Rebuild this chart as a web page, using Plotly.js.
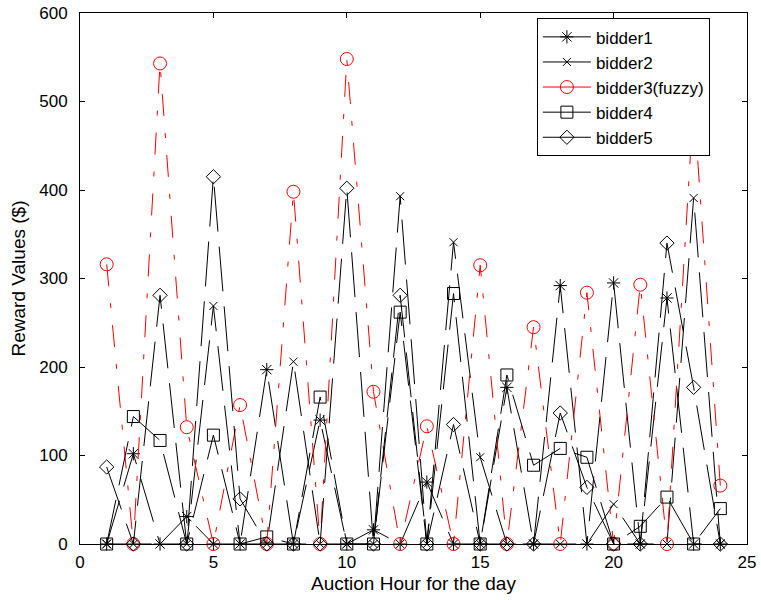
<!DOCTYPE html>
<html>
<head>
<meta charset="utf-8">
<script src="https://cdn.plot.ly/plotly-3.0.1.min.js"></script>
<style>html,body{margin:0;padding:0;background:#fff;}#chart{width:761px;height:600px;}</style>
</head>
<body>
<div id="chart"></div>
<script>
const hours = [1,2,3,4,5,6,7,8,9,10,11,12,13,14,15,16,17,18,19,20,21,22,23,24];
const bidder1 = [0,102,0,31,0,0,197,0,140,0,16,0,70,0,0,177,0,292,0,295,0,278,0,0];
const bidder2 = [0,0,0,0,269,0,0,206,0,0,0,393,0,341,98,0,0,0,0,45,0,0,391,0];
const bidder3 = [316,0,543,132,0,157,0,398,0,548,172,0,133,0,315,0,245,0,284,0,293,0,500,66];
const bidder4 = [0,144,117,0,123,0,8,0,166,0,0,262,0,283,0,191,89,108,98,0,20,53,0,40];
const bidder5 = [87,0,281,0,415,51,0,0,0,402,0,281,0,135,0,0,0,148,64,0,0,340,177,0];
const names = ['bidder1','bidder2','bidder3(fuzzy)','bidder4','bidder5'];
const series = [bidder1, bidder2, bidder3, bidder4, bidder5];

const styles = [
  {color:'#000', symbol:'asterisk-open', size:11, dash:'45px,15px'},
  {color:'#000', symbol:'x-thin-open', size:8, dash:'45px,15px'},
  {color:'#ff0000', symbol:'circle-open', size:13, dash:'22px,17px,5px,17px'},
  {color:'#000', symbol:'square-open', size:12, dash:'45px,15px'},
  {color:'#000', symbol:'diamond-open', size:11, dash:'45px,15px'}
];

const traces = [];
series.forEach((ys, i) => {
  const s = styles[i];
  traces.push({
    x: hours, y: ys, type:'scatter', mode:'lines+markers', name: names[i],
    showlegend:false, cliponaxis:false,
    line:{color:s.color, width:1, dash:s.dash},
    marker:{symbol:s.symbol, size:s.size, color:s.color, line:{color:s.color, width:1}}
  });
});
// legend entries (solid sample lines, as in the reference legend)
series.forEach((ys, i) => {
  const s = styles[i];
  traces.push({
    x:[null], y:[null], type:'scatter', mode:'lines+markers', name: names[i],
    showlegend:true,
    line:{color:s.color, width:1},
    marker:{symbol:s.symbol, size:s.size, color:s.color, line:{color:s.color, width:1}}
  });
});

const fam = 'Arial, Liberation Sans, sans-serif';
const tickFont = {family:fam, size:17, color:'#000'};
const titleFont = {family:fam, size:19, color:'#000'};
const layout = {
  width:761, height:600,
  margin:{l:80, r:14, t:13, b:56},
  paper_bgcolor:'#fff', plot_bgcolor:'#fff',
  font: tickFont,
  showlegend:true,
  xaxis:{
    range:[0,25], dtick:5, tick0:0, ticks:'inside', ticklen:5, tickcolor:'#000',
    showline:true, linecolor:'#000', linewidth:1, mirror:'ticks',
    showgrid:false, zeroline:false, tickfont:tickFont, ticklabelstandoff:3,
    title:{text:'Auction Hour for the day', font:titleFont, standoff:5}
  },
  yaxis:{
    range:[0,600], dtick:100, tick0:0, ticks:'inside', ticklen:5, tickcolor:'#000',
    showline:true, linecolor:'#000', linewidth:1, mirror:'ticks',
    showgrid:false, zeroline:false, tickfont:tickFont, ticklabelstandoff:8,
    title:{text:'Reward Values ($)', font:titleFont, standoff:8}
  },
  legend:{
    x:0.685, y:0.99, xanchor:'left', yanchor:'top',
    bgcolor:'#fff', bordercolor:'#000', borderwidth:1,
    font:{family:fam, size:17, color:'#000'},
    tracegroupgap:0, itemwidth:48,
    entrywidth:140, entrywidthmode:'pixels'
  }
};
Plotly.newPlot('chart', traces, layout, {displayModeBar:false, staticPlot:true});
</script>
</body>
</html>
